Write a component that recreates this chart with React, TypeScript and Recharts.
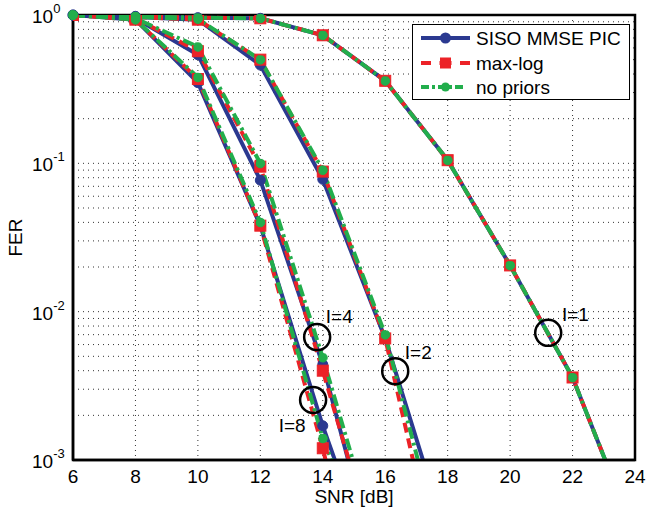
import React from 'react';
import { LineChart, Line, XAxis, YAxis, CartesianGrid, ReferenceDot, ReferenceArea, Legend, Label } from 'recharts';

const FONT = '"Liberation Sans", Arial, Helvetica, sans-serif';
const BLUE = '#2b3990';
const RED = '#ec2227';
const GREEN = '#22ae4c';

// SNR grids
const snrI1 = [6, 8, 10, 12, 14, 16, 18, 20, 22, 24];
const snrI2 = [6, 8, 10, 12, 14, 16, 18];
const snrI48 = [6, 8, 10, 12, 14, 16];

// FER values, I=1
const sisoI1 = [1, 0.98, 0.96, 0.95, 0.73, 0.36, 0.105, 0.0205, 0.0036, 0.00031];
const maxlogI1 = [1, 0.98, 0.96, 0.95, 0.73, 0.36, 0.105, 0.0205, 0.0036, 0.00031];
const nopriI1 = [1, 0.98, 0.96, 0.95, 0.73, 0.36, 0.105, 0.0205, 0.0036, 0.00031];
// I=2
const sisoI2 = [1, 0.97, 0.93, 0.46, 0.078, 0.0066, 0.00029];
const maxlogI2 = [1, 0.97, 0.93, 0.5, 0.088, 0.0066, 0.000095];
const nopriI2 = [1, 0.97, 0.94, 0.5, 0.09, 0.007, 0.00017];
// I=4
const sisoI4 = [1, 0.95, 0.54, 0.077, 0.0044, 0.000115];
const maxlogI4 = [1, 0.95, 0.57, 0.095, 0.004, 0.000145];
const nopriI4 = [1, 0.95, 0.61, 0.1, 0.0049, 0.00018];
// I=8
const sisoI8 = [1, 0.93, 0.35, 0.038, 0.0017, 0.00011];
const maxlogI8 = [1, 0.93, 0.37, 0.038, 0.0012, 0.00002];
const nopriI8 = [1, 0.93, 0.38, 0.04, 0.0014, 0.00013];

const xTicks = [6, 8, 10, 12, 14, 16, 18, 20, 22, 24];
const yTicks = [
  0.001, 0.002, 0.003, 0.004, 0.005, 0.006, 0.007, 0.008, 0.009,
  0.01, 0.02, 0.03, 0.04, 0.05, 0.06, 0.07, 0.08, 0.09,
  0.1, 0.2, 0.3, 0.4, 0.5, 0.6, 0.7, 0.8, 0.9, 1,
];

const annotCircles = [
  { x: 21.22, y: 0.0072 },
  { x: 16.32, y: 0.00397 },
  { x: 13.82, y: 0.00674 },
  { x: 13.69, y: 0.00254 },
];
const annotLabels = [
  { text: 'I=1', x: 22.09, y: 0.0095 },
  { text: 'I=2', x: 17.06, y: 0.00534 },
  { text: 'I=4', x: 14.53, y: 0.0093 },
  { text: 'I=8', x: 13.02, y: 0.0017 },
];

const mk = (xs: number[], ys: number[]) => xs.map((x, i) => ({ x, y: ys[i] }));

const sisoSeries = [mk(snrI1, sisoI1), mk(snrI2, sisoI2), mk(snrI48, sisoI4), mk(snrI48, sisoI8)];
const maxlogSeries = [mk(snrI1, maxlogI1), mk(snrI2, maxlogI2), mk(snrI48, maxlogI4), mk(snrI48, maxlogI8)];
const nopriSeries = [mk(snrI1, nopriI1), mk(snrI2, nopriI2), mk(snrI48, nopriI4), mk(snrI48, nopriI8)];

const redSquare = (p: any) => {
  if (p.cx == null || p.cy == null) return <g key={p.index} />;
  return <rect key={p.index} x={p.cx - 5.5} y={p.cy - 5.5} width={11} height={11} fill={RED} stroke={RED} strokeWidth={1} />;
};

const XTick = (p: any) => (
  <text x={p.x} y={p.y + 23} textAnchor="middle" fontFamily={FONT} fontSize={19} fill="#000">
    {p.payload.value}
  </text>
);

const YTick = (p: any) => {
  const v = p.payload.value;
  const l = Math.log10(v);
  const e = Math.round(l);
  if (Math.abs(l - e) > 1e-6) return <g />;
  return (
    <text x={p.x - 41} y={p.y + 8} textAnchor="start" fontFamily={FONT} fontSize={19} fill="#000">
      <tspan>10</tspan>
      <tspan dy={-10} fontSize={13}>{String(e)}</tspan>
    </text>
  );
};

const LegendBox = () => (
  <div
    style={{
      width: 218,
      height: 76,
      boxSizing: 'border-box',
      border: '1.5px solid #000',
      background: '#fff',
      fontFamily: FONT,
      fontSize: 19,
      color: '#000',
      position: 'relative',
    }}
  >
    <svg width={218} height={76} style={{ position: 'absolute', left: -1.5, top: -1.5 }}>
      <line x1={9} y1={14} x2={58} y2={14} stroke={BLUE} strokeWidth={4} />
      <circle cx={33.5} cy={14} r={5.5} fill={BLUE} />
      <line x1={9} y1={39} x2={58} y2={39} stroke={RED} strokeWidth={4} strokeDasharray="10 8.5 12 8.5 10" />
      <rect x={28} y={33.5} width={11} height={11} fill={RED} />
      <line x1={9} y1={63} x2={58} y2={63} stroke={GREEN} strokeWidth={4} strokeDasharray="8 3 3 3 8 3 3 3 8" />
      <circle cx={33.5} cy={63} r={4.5} fill={GREEN} />
      <text x={64} y={21} fontFamily={FONT} fontSize={19} fill="#000">SISO MMSE PIC</text>
      <text x={64} y={46} fontFamily={FONT} fontSize={19} fill="#000">max-log</text>
      <text x={64} y={70} fontFamily={FONT} fontSize={19} fill="#000">no priors</text>
    </svg>
  </div>
);

export default function App() {
  return (
    <div style={{ position: 'absolute', left: 0, top: 0, width: 646, height: 511, background: '#fff' }}>
      <LineChart width={646} height={511} margin={{ top: 15, right: 11, bottom: 11, left: 13 }}>
        <CartesianGrid stroke="#333" strokeDasharray="1 4" strokeWidth={1} />
        <XAxis
          dataKey="x"
          type="number"
          domain={[6, 24]}
          ticks={xTicks}
          allowDataOverflow
          height={40}
          tickSize={0}
          tickMargin={0}
          tickLine={false}
          axisLine={{ stroke: '#000', strokeWidth: 2.5 }}
          tick={<XTick />}
        >
          <Label
            content={(props: any) => {
              const vb = props.viewBox;
              return (
                <text x={vb.x + vb.width / 2} y={vb.y + 43} textAnchor="middle" fontFamily={FONT} fontSize={19} fill="#000">
                  SNR [dB]
                </text>
              );
            }}
          />
        </XAxis>
        <YAxis
          dataKey="y"
          type="number"
          scale="log"
          domain={[0.001, 1]}
          ticks={yTicks}
          allowDataOverflow
          width={60}
          tickSize={0}
          tickMargin={0}
          tickLine={false}
          interval={0}
          axisLine={{ stroke: '#000', strokeWidth: 2.5 }}
          tick={<YTick />}
        >
          <Label
            content={(props: any) => {
              const vb = props.viewBox;
              const cx = 15;
              const cy = vb.y + vb.height / 2;
              return (
                <text x={cx} y={cy} textAnchor="middle" dominantBaseline="central" transform={`rotate(-90 ${cx} ${cy})`} fontFamily={FONT} fontSize={19} fill="#000">
                  FER
                </text>
              );
            }}
          />
        </YAxis>
        <ReferenceArea x1={6} x2={24} y1={0.001} y2={1} fill="none" stroke="#000" strokeWidth={2.5} />
        {sisoSeries.map((d, i) => (
          <Line
            key={`s${i}`}
            data={d}
            dataKey="y"
            type="linear"
            stroke={BLUE}
            strokeWidth={4}
            dot={{ r: 5, fill: BLUE, stroke: BLUE, strokeWidth: 1, clipDot: false }}
            isAnimationActive={false}
            legendType="none"
          />
        ))}
        {maxlogSeries.map((d, i) => (
          <Line
            key={`m${i}`}
            data={d}
            dataKey="y"
            type="linear"
            stroke={RED}
            strokeWidth={4}
            strokeDasharray="10 6"
            dot={redSquare}
            isAnimationActive={false}
            legendType="none"
          />
        ))}
        {nopriSeries.map((d, i) => (
          <Line
            key={`n${i}`}
            data={d}
            dataKey="y"
            type="linear"
            stroke={GREEN}
            strokeWidth={4}
            strokeDasharray="12 4 3 4"
            dot={{ r: 4.5, fill: GREEN, stroke: GREEN, strokeWidth: 1, clipDot: false }}
            isAnimationActive={false}
            legendType="none"
          />
        ))}
        {annotCircles.map((c, i) => (
          <ReferenceDot key={`c${i}`} x={c.x} y={c.y} r={13} fill="none" stroke="#000" strokeWidth={2.5} />
        ))}
        {annotLabels.map((a, i) => (
          <ReferenceDot
            key={`l${i}`}
            x={a.x}
            y={a.y}
            r={0}
            shape={(p: any) => (
              <text x={p.cx} y={p.cy} textAnchor="middle" dominantBaseline="central" fontFamily={FONT} fontSize={19} fill="#000">
                {a.text}
              </text>
            )}
          />
        ))}
        <Legend
          layout="vertical"
          align="center"
          verticalAlign="middle"
          wrapperStyle={{ left: 412, top: 24, width: 218, height: 76 }}
          content={() => <LegendBox />}
        />
      </LineChart>
    </div>
  );
}
